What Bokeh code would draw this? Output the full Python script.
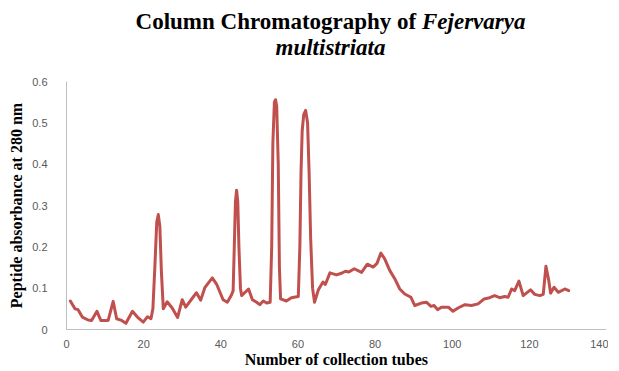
from bokeh.plotting import figure
from bokeh.models import Range1d, FixedTicker, Div
from bokeh.layouts import column
from bokeh.embed import file_html
from bokeh.resources import INLINE

tube = [1, 2.2, 3.0, 4.1, 5.6, 6.5, 7.9, 8.9, 10.8, 12.1, 13.0, 14.3, 15.4, 17.1, 18.6, 19.9,
        21.0, 21.9, 22.4, 22.9, 23.4, 23.8, 24.2, 24.6, 25.1, 26.1, 27.4, 28.8, 30.0, 30.9,
        32.8, 33.7, 34.8, 35.9, 37.8, 38.9, 40.6, 41.7, 42.8, 43.2, 43.5, 43.8, 44.1, 44.4,
        44.7, 45.1, 45.4, 47.2, 48.2, 49.3, 50.1, 51.0, 51.9, 52.8, 53.2, 53.5, 53.9, 54.2,
        54.5, 54.9, 55.2, 55.5, 57.0, 58.3, 60.1, 60.5, 60.8, 61.1, 61.5, 62.0, 62.5, 62.9,
        63.3, 63.8, 64.3, 65.3, 66.5, 67.1, 68.3, 70.0, 71.3, 72.3, 73.2, 74.6, 76.5, 78.0,
        79.5, 80.5, 81.5, 82.5, 83.8, 85.1, 86.4, 87.7, 89.3, 90.3, 92.0, 93.3, 94.5, 95.3,
        96.2, 97.2, 99.0, 100.2, 101.5, 103.3, 105.0, 106.7, 108.3, 109.7, 111.0, 112.3,
        113.6, 114.5, 115.4, 116.2, 117.3, 118.4, 120.3, 121.4, 122.7, 123.6, 124.3, 125.0,
        125.5, 126.4, 127.5, 129.2, 130.2]
absorbance = [0.069, 0.050, 0.048, 0.030, 0.023, 0.022, 0.044, 0.022, 0.022, 0.068, 0.026,
              0.022, 0.015, 0.044, 0.028, 0.018, 0.031, 0.026, 0.05, 0.15, 0.26, 0.278, 0.25,
              0.14, 0.05, 0.067, 0.052, 0.029, 0.072, 0.054, 0.078, 0.089, 0.071, 0.102, 0.125,
              0.11, 0.072, 0.066, 0.084, 0.094, 0.2, 0.31, 0.337, 0.31, 0.2, 0.1, 0.082, 0.098,
              0.072, 0.066, 0.060, 0.069, 0.064, 0.066, 0.2, 0.45, 0.55, 0.556, 0.54, 0.4, 0.15,
              0.074, 0.069, 0.077, 0.080, 0.2, 0.38, 0.48, 0.52, 0.53, 0.5, 0.38, 0.22, 0.1,
              0.066, 0.096, 0.115, 0.109, 0.137, 0.132, 0.136, 0.141, 0.139, 0.147, 0.138,
              0.158, 0.151, 0.16, 0.185, 0.171, 0.143, 0.123, 0.098, 0.086, 0.078, 0.058,
              0.064, 0.066, 0.056, 0.058, 0.048, 0.054, 0.054, 0.044, 0.052, 0.060, 0.058,
              0.062, 0.074, 0.077, 0.082, 0.077, 0.080, 0.078, 0.098, 0.094, 0.117, 0.082,
              0.096, 0.085, 0.082, 0.085, 0.153, 0.12, 0.088, 0.102, 0.090, 0.098, 0.094]

x_ticks = [0, 20, 40, 60, 80, 100, 120, 140]
y_ticks = [0, 0.1, 0.2, 0.3, 0.4, 0.5, 0.6]
y_tick_labels = {0: "0", 0.1: "0.1", 0.2: "0.2", 0.3: "0.3", 0.4: "0.4", 0.5: "0.5", 0.6: "0.6"}

title_html = (
    '<div style="font-family:\'Liberation Serif\';font-weight:bold;font-size:23px;'
    'line-height:26px;text-align:center;width:603px;box-sizing:border-box;'
    'padding-left:48px;color:#000;margin-top:4px;">'
    'Column Chromatography of <i>Fejervarya</i><br><i>multistriata</i></div>'
)
title = Div(text=title_html, width=603, height=58)

p = figure(frame_width=540, frame_height=248, output_backend="svg", toolbar_location=None,
           x_range=Range1d(0, 140), y_range=Range1d(0, 0.6),
           min_border_left=0, min_border_right=2, min_border_top=13, min_border_bottom=0,
           margin=(0, 0, 0, 5))

p.line(tube, absorbance, line_color="#C0504D", line_width=3, line_join="round", line_cap="round")

p.xgrid.visible = False
p.ygrid.visible = False
p.outline_line_color = None
p.background_fill_color = "white"
p.border_fill_color = "white"

for ax in (p.xaxis[0], p.yaxis[0]):
    ax.axis_line_color = "#BFBFBF"
    ax.axis_line_width = 1
    ax.major_tick_line_color = None
    ax.minor_tick_line_color = None
    ax.major_label_text_font = "Liberation Sans"
    ax.major_label_text_font_size = "11px"
    ax.major_label_text_color = "#595959"
    ax.axis_label_text_font = "Liberation Serif"
    ax.axis_label_text_font_style = "bold"
    ax.axis_label_text_font_size = "16px"
    ax.axis_label_text_color = "#000000"

p.xaxis.ticker = FixedTicker(ticks=x_ticks)
p.yaxis.ticker = FixedTicker(ticks=y_ticks)
p.yaxis.major_label_overrides = y_tick_labels
p.xaxis.axis_label = "Number of collection tubes"
p.yaxis.axis_label = "Peptide absorbance at 280 nm"
p.xaxis.major_label_standoff = 4
p.xaxis.axis_label_standoff = 0
p.yaxis.major_label_standoff = 13
p.yaxis.axis_label_standoff = 4

layout = column(title, p, spacing=0)
open("out.html", "w").write(file_html(layout, INLINE))
